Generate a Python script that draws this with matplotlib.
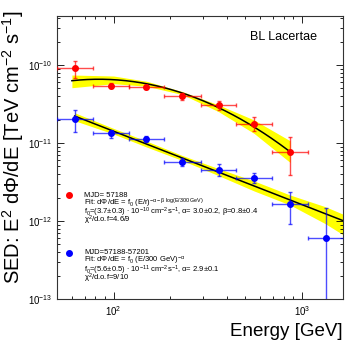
import numpy as np
import matplotlib
matplotlib.use("Agg")
import matplotlib.pyplot as plt

plt.rcParams["font.family"] = ["Liberation Sans", "DejaVu Sans"]
plt.rcParams["mathtext.fontset"] = "custom"
plt.rcParams["mathtext.rm"] = "Liberation Sans"
plt.rcParams["mathtext.it"] = "Liberation Sans:italic"
plt.rcParams["mathtext.default"] = "regular"

# energy bins [GeV]
energy = [62.5, 97, 149, 232, 361, 557, 867, 1337]
bin_edges = [50, 78, 120, 186, 290, 449, 695, 1076, 1667]

# MJD 57188 (red) - SED points and error bounds [TeV cm^-2 s^-1]
red_sed = [9.1e-11, 5.4e-11, 5.2e-11, 4.0e-11, 3.05e-11, 1.77e-11, 7.7e-12]
red_lo = [6.87e-11, 5.03e-11, 4.95e-11, 3.56e-11, 2.65e-11, 1.44e-11, 3.89e-12]
red_hi = [1.125e-10, 5.82e-11, 5.42e-11, 4.34e-11, 3.45e-11, 2.14e-11, 1.19e-11]

# MJD 57188-57201 (blue)
blue_sed = [2.03e-11, 1.36e-11, 1.12e-11, 5.75e-12, 4.5e-12, 3.52e-12, 1.64e-12, 6.0e-13]
blue_lo = [1.38e-11, 1.17e-11, 1.04e-11, 5.07e-12, 3.81e-12, 3.04e-12, 9.15e-13, 1e-14]
blue_hi = [2.65e-11, 1.47e-11, 1.23e-11, 6.37e-12, 5.33e-12, 4.09e-12, 2.33e-12, 1.48e-12]

# fitted models (f0 in TeV^-1 cm^-2 s^-1, pivot 300 GeV)
pivot = 300.0
red_f0, red_alpha, red_beta = 3.85e-10, 3.0, 0.9
red_fit_range = (60, 867)
blue_f0, blue_alpha = 5.6e-11, 2.94
blue_fit_range = (62, 1650)

# butterfly half widths (dex above / below the fit)
red_band_e = [60, 100, 150, 232, 361, 557, 867]
red_band_up = [0.073, 0.047, 0.032, 0.019, 0.035, 0.090, 0.141]
red_band_dn = [0.090, 0.051, 0.032, 0.019, 0.051, 0.082, 0.137]
blue_band_e = [62, 100, 150, 232, 361, 557, 867, 1337, 1650]
blue_band_up = [0.042, 0.036, 0.038, 0.032, 0.045, 0.064, 0.064, 0.090, 0.083]
blue_band_dn = [0.060, 0.036, 0.038, 0.032, 0.045, 0.064, 0.064, 0.128, 0.180]


def logpar_sed(e, f0, alpha, beta):
    x = np.asarray(e, dtype=float) / pivot
    return f0 * (np.asarray(e) / 1000.0) ** 2 * x ** (-alpha - beta * np.log10(x))


def draw_set(ax, sed, lo, hi, color, sed_fn, fit_range, band_e, band_up, band_dn):
    n = len(sed)
    e = np.array(energy[:n])
    xerr = [e - np.array(bin_edges[:n]), np.array(bin_edges[1:n + 1]) - e]
    yerr = [np.array(sed) - np.array(lo), np.array(hi) - np.array(sed)]

    be = np.array(band_e, dtype=float)
    mid = sed_fn(be)
    ax.fill_between(be, mid / 10 ** np.array(band_dn), mid * 10 ** np.array(band_up),
                    color="#ffff00", lw=0, zorder=1)
    eg = np.geomspace(*fit_range, 200)
    ax.plot(eg, sed_fn(eg), color="black", lw=1.1, zorder=2)
    ax.errorbar(e, sed, xerr=xerr, yerr=yerr, fmt="o", ms=4, color=color,
                ecolor=matplotlib.colors.to_rgba(color, 0.7), elinewidth=1,
                capsize=1.3, capthick=1, zorder=3)


fig = plt.figure(figsize=(3.57, 3.45), dpi=100)
ax = fig.add_axes([0.1597, 0.1333, 0.8003, 0.8203])

draw_set(ax, red_sed, red_lo, red_hi, "red",
         lambda e: logpar_sed(e, red_f0, red_alpha, red_beta),
         red_fit_range, red_band_e, red_band_up, red_band_dn)
draw_set(ax, blue_sed, blue_lo, blue_hi, "blue",
         lambda e: logpar_sed(e, blue_f0, blue_alpha, 0.0),
         blue_fit_range, blue_band_e, blue_band_up, blue_band_dn)

ax.set_xscale("log")
ax.set_yscale("log")
ax.set_xlim(50, 1650)
ax.set_ylim(1e-13, 4.25e-10)
ax.tick_params(which="both", direction="in", top=True, right=True, width=0.6, labelsize=7)
ax.tick_params(which="major", length=5)
ax.tick_params(which="minor", length=2.5)
for s in ax.spines.values():
    s.set_linewidth(0.8)
    s.set_color("#333333")

fig.text(0.036, 0.97, r"SED: E$^{2}$ d$\Phi$/dE [TeV cm$^{-2}$ s$^{-1}$]",
         rotation=90, ha="center", va="top", fontsize=14.5)
fig.text(0.96, 0.038, "Energy [GeV]", ha="right", va="center", fontsize=13.5)
fig.text(0.700, 0.8936, "BL Lacertae", ha="left", va="center", fontsize=9)

# legend-like annotations
red_text = [
    "MJD= 57188",
    r"Fit: d$\Phi$/dE = f$_0$ (E/r)$^{-\alpha-\beta\ log(E/300\ GeV)}$",
    r"f$_0$=(3.7$\pm$0.3) $\cdot$ 10$^{-10}$ cm$^{-2}$s$^{-1}$, $\alpha$= 3.0$\pm$0.2, $\beta$=0.8$\pm$0.4",
    r"$\chi^2$/d.o.f=4.6/9",
]
blue_text = [
    "MJD=57188-57201",
    r"Fit: d$\Phi$/dE = f$_0$ (E/300 GeV)$^{-\alpha}$",
    r"f$_0$=(5.6$\pm$0.5) $\cdot$ 10$^{-11}$ cm$^{-2}$s$^{-1}$, $\alpha$= 2.9$\pm$0.1",
    r"$\chi^2$/d.o.f=9/10",
]
for y0, color, lines in [(0.3675, "red", red_text), (0.1636, "blue", blue_text)]:
    ax.plot([0.042], [y0], "o", ms=4, color=color, transform=ax.transAxes, clip_on=False)
    for i, line in enumerate(lines):
        ax.text(0.0956, y0 - i * 0.0304, line, transform=ax.transAxes,
                ha="left", va="center", fontsize=5.5)

fig.savefig("out.png", dpi=100)
